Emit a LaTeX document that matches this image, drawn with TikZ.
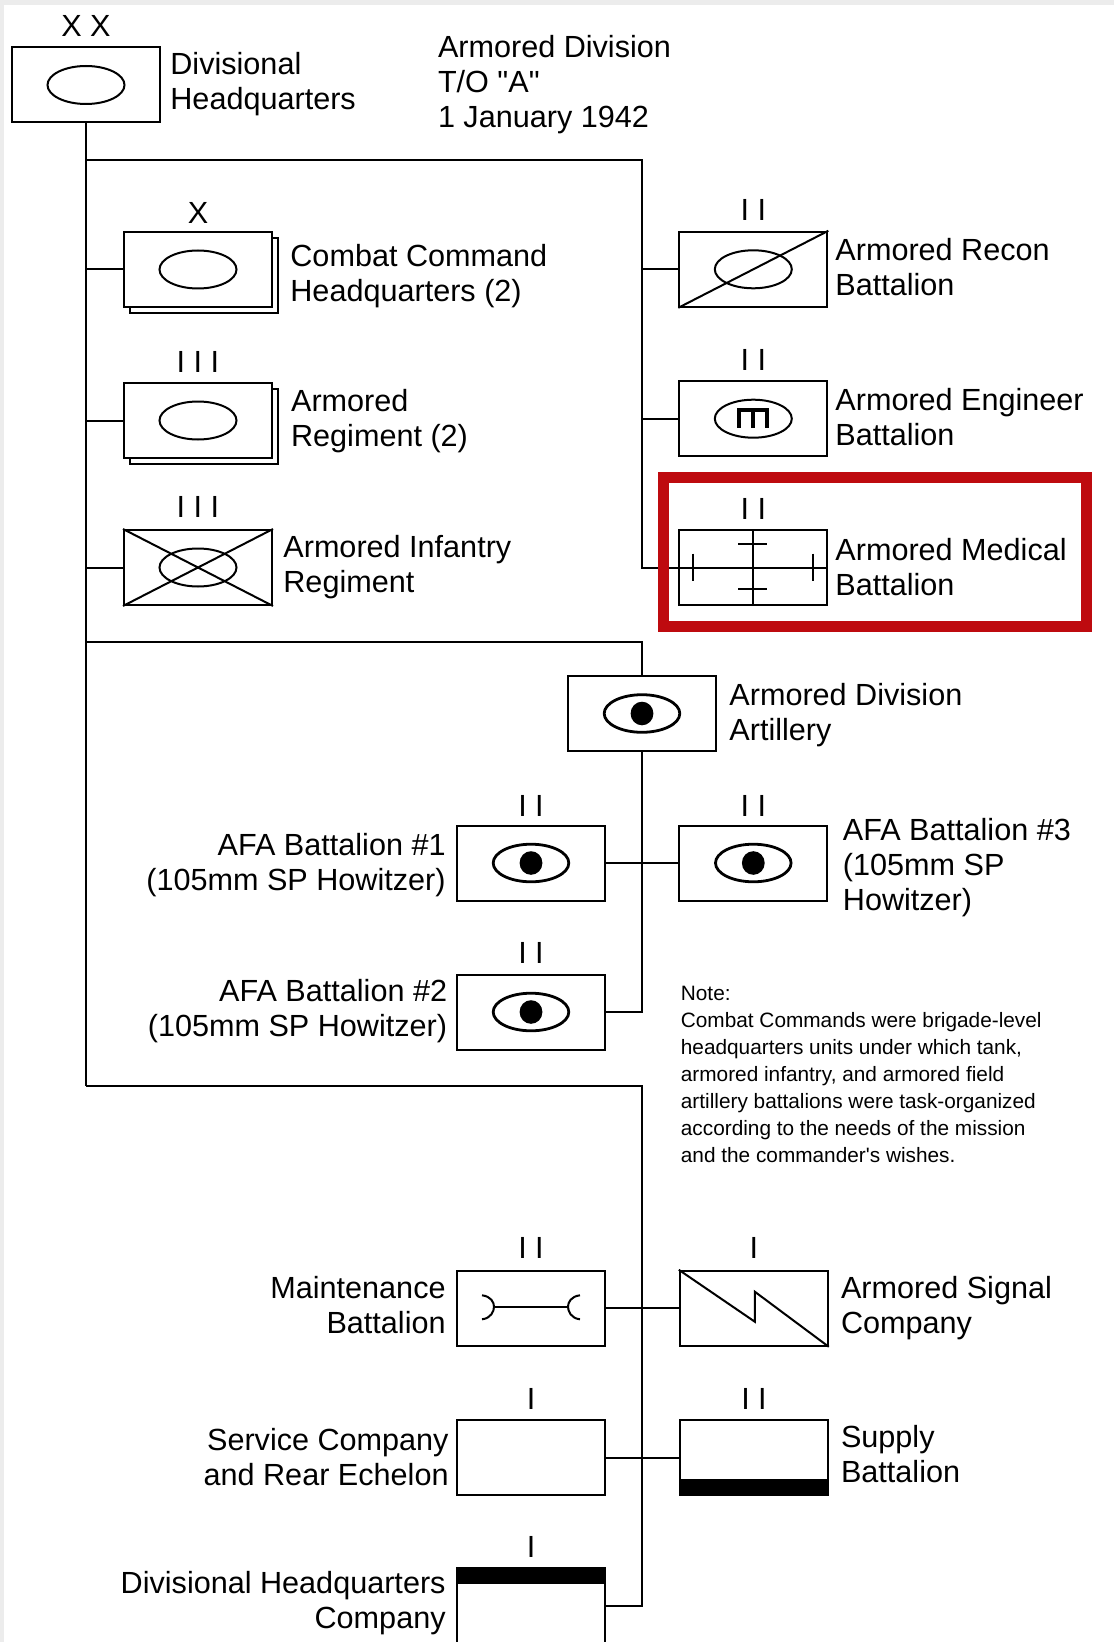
\documentclass[tikz,border=0pt]{standalone}
\usepackage{fontspec}
\setmainfont{Liberation Sans}[Ligatures=TeXOff]
\usepackage{xcolor}
\definecolor{medred}{RGB}{190,10,15}
\definecolor{edgegray}{RGB}{236,236,236}
\usepackage{tikz}
\usetikzlibrary{calc,shadows}

\newcommand{\chartfont}{\fontsize{15.3pt}{17.5pt}\selectfont}
\newcommand{\chartnotefont}{\fontsize{10.4pt}{13.5pt}\selectfont}

\tikzset{
  unitbox/.style={draw, line width=1pt, fill=white, minimum width=74pt, minimum height=37.5pt, inner sep=0pt},
  stacked/.style={copy shadow={shadow xshift=3pt, shadow yshift=-3pt}},
  echelon/.style={font=\chartfont, anchor=base, inner sep=0pt},
  unitlabel/.style={font=\chartfont, inner sep=0pt, anchor=base west},
  unitlabelr/.style={font=\chartfont, inner sep=0pt, anchor=base east},
  link/.style={line width=1pt},
  symbol/.style={line width=1pt},
  eye/.style={line width=1.4pt}
}

\begin{document}
\begin{tikzpicture}[x=0.5pt, y=-0.5pt]
  \useasboundingbox (0,0) rectangle (1114,1642);
  \fill[white] (0,0) rectangle (1114,1642);
  \fill[edgegray] (0,0) rectangle (1114,5);
  \fill[edgegray] (0,0) rectangle (4,1642);

  % Division headquarters and title
  \node[unitbox] (dhq) at (86,85) {};
  \node[echelon] (dhq-ech) at ([yshift=5pt]dhq.north) {X X};
  \node[unitlabel] (dhq-txt) at (170,75) {\begin{tabular}[t]{@{}l@{}}Divisional\\Headquarters\end{tabular}};
  \node[unitlabel] (title) at (437.6,57.6) {\begin{tabular}[t]{@{}l@{}}Armored Division\\T/O "A"\\1 January 1942\end{tabular}};

  % Trunk junctions
  \coordinate (tk1) at (86,160);
  \coordinate (tk1r) at (642,160);
  \coordinate (tk2) at (86,642);
  \coordinate (tk3) at (86,1086);
  \coordinate (tk3r) at (642,1086);

  % Combat elements (left)
  \node[unitbox, stacked] (cc) at (198,269.5) {};
  \node[echelon] (cc-ech) at ([yshift=3.5pt]cc.north) {X};
  \node[unitlabel] (cc-txt) at (290,266.5) {\begin{tabular}[t]{@{}l@{}}Combat Command\\Headquarters (2)\end{tabular}};

  \node[unitbox, stacked] (ar) at (198,420.5) {};
  \node[echelon] (ar-ech) at ([yshift=5pt]ar.north) {I I I};
  \node[unitlabel] (ar-txt) at (290.7,411) {\begin{tabular}[t]{@{}l@{}}Armored\\Regiment (2)\end{tabular}};

  \node[unitbox] (air) at (198,567.5) {};
  \node[echelon] (air-ech) at ([yshift=6pt]air.north) {I I I};
  \node[unitlabel] (air-txt) at (283,557) {\begin{tabular}[t]{@{}l@{}}Armored Infantry\\Regiment\end{tabular}};

  % Combat elements (right)
  \node[unitbox] (recon) at (753.3,269.3) {};
  \node[echelon] (recon-ech) at ([yshift=5pt]recon.north) {I I};
  \node[unitlabel] (recon-txt) at (835,260.7) {\begin{tabular}[t]{@{}l@{}}Armored Recon\\Battalion\end{tabular}};

  \node[unitbox] (eng) at (753.3,418.7) {};
  \node[echelon] (eng-ech) at ([yshift=5pt]eng.north) {I I};
  \node[unitlabel] (eng-txt) at (835,410) {\begin{tabular}[t]{@{}l@{}}Armored Engineer\\Battalion\end{tabular}};

  \node[unitbox] (med) at (753.3,567.5) {};
  \node[echelon] (med-ech) at ([yshift=5pt]med.north) {I I};
  \node[unitlabel] (med-txt) at (835,560) {\begin{tabular}[t]{@{}l@{}}Armored Medical\\Battalion\end{tabular}};

  % Division artillery
  \node[unitbox] (ada) at (642,713.5) {};
  \node[unitlabel] (ada-txt) at (729,705) {\begin{tabular}[t]{@{}l@{}}Armored Division\\Artillery\end{tabular}};

  \node[unitbox] (afa1) at (531,863) {};
  \node[echelon] (afa1-ech) at ([yshift=4pt]afa1.north) {I I};
  \node[unitlabelr] (afa1-txt) at (446,855) {\begin{tabular}[t]{@{}r@{}}AFA Battalion \#1\\(105mm SP Howitzer)\end{tabular}};

  \node[unitbox] (afa3) at (753.3,863) {};
  \node[echelon] (afa3-ech) at ([yshift=4pt]afa3.north) {I I};
  \node[unitlabel] (afa3-txt) at (842.5,840) {\begin{tabular}[t]{@{}l@{}}AFA Battalion \#3\\(105mm SP\\Howitzer)\end{tabular}};

  \node[unitbox] (afa2) at (531,1012) {};
  \node[echelon] (afa2-ech) at ([yshift=5pt]afa2.north) {I I};
  \node[unitlabelr] (afa2-txt) at (447.5,1001.7) {\begin{tabular}[t]{@{}r@{}}AFA Battalion \#2\\(105mm SP Howitzer)\end{tabular}};

  % Note
  \node[font=\chartnotefont, inner sep=0pt, anchor=base west] (note) at (680.5,1000) {\begin{tabular}[t]{@{}l@{}}Note:\\Combat Commands were brigade-level\\headquarters units under which tank,\\armored infantry, and armored field\\artillery battalions were task-organized\\according to the needs of the mission\\and the commander's wishes.\end{tabular}};

  % Service elements
  \node[unitbox] (maint) at (531,1308.3) {};
  \node[echelon] (maint-ech) at ([yshift=5.5pt]maint.north) {I I};
  \node[unitlabelr] (maint-txt) at (446,1298) {\begin{tabular}[t]{@{}r@{}}Maintenance\\Battalion\end{tabular}};

  \node[unitbox] (sig) at (753.8,1308.3) {};
  \node[echelon] (sig-ech) at ([yshift=5.5pt]sig.north) {I};
  \node[unitlabel] (sig-txt) at (840.6,1298) {\begin{tabular}[t]{@{}l@{}}Armored Signal\\Company\end{tabular}};

  \node[unitbox] (svc) at (531,1457.5) {};
  \node[echelon] (svc-ech) at ([yshift=5pt]svc.north) {I};
  \node[unitlabelr] (svc-txt) at (449,1450) {\begin{tabular}[t]{@{}r@{}}Service Company\\and Rear Echelon\end{tabular}};

  \node[unitbox] (sup) at (754,1457.5) {};
  \node[echelon] (sup-ech) at ([yshift=5pt]sup.north) {I I};
  \node[unitlabel] (sup-txt) at (840.6,1447) {\begin{tabular}[t]{@{}l@{}}Supply\\Battalion\end{tabular}};

  \node[unitbox] (dhqco) at (531,1605.5) {};
  \node[echelon] (dhqco-ech) at ([yshift=5pt]dhqco.north) {I};
  \node[unitlabelr] (dhqco-txt) at (446,1593) {\begin{tabular}[t]{@{}r@{}}Divisional Headquarters\\Company\end{tabular}};

  % Branch symbols
  \foreach \u in {dhq,cc,ar,air,recon,eng}
    \draw[symbol] (\u.center) ellipse (19.25pt and 9.5pt);
  \draw[symbol] (air.north west) -- (air.south east) (air.south west) -- (air.north east);
  \draw[symbol] (recon.south west) -- (recon.north east);
  \begin{scope}[shift={(eng.center)}]
    \draw[line width=2pt] (-14,9) -- (-14,-9) -- (14,-9) -- (14,9) (0,-9) -- (0,9);
  \end{scope}
  \begin{scope}[shift={(med.center)}]
    \draw[symbol] (med.west) -- (med.east) (med.north) -- (med.south);
    \draw[symbol] (-60,-14) -- (-60,13) (60,-14) -- (60,13);
    \draw[symbol] (-15,-24) -- (14,-24) (-15,21.5) -- (14,21.5);
  \end{scope}
  \foreach \u in {ada,afa1,afa3,afa2} {
    \draw[eye] (\u.center) ellipse (18.9pt and 9.4pt);
    \fill (\u.center) ellipse (5.7pt and 5.9pt);
  }
  \begin{scope}[shift={(maint.center)}]
    \draw[symbol] (-37,-1.6) -- (37,-1.6);
    \draw[symbol] (-49,-13) .. controls (-40,-12) and (-37,-6) .. (-37,-1.6) .. controls (-37,3) and (-40,10) .. (-49,11);
    \draw[symbol] (49,-13) .. controls (40,-12) and (37,-6) .. (37,-1.6) .. controls (37,3) and (40,10) .. (49,11);
  \end{scope}
  \begin{scope}[shift={(sig.center)}]
    \draw[symbol] (sig.north west) -- (1,13.4) -- (1,-16.6) -- (sig.south east);
  \end{scope}
  \fill (sup.south west) rectangle ([yshift=8.5pt]sup.south east);
  \fill (dhqco.north west) rectangle ([yshift=-8.5pt]dhqco.north east);

  % Connectors
  \draw[link] (dhq.south) -- (tk3);
  \draw[link] (tk1) -- (tk1r) |- (med.west);
  \foreach \u in {cc,ar,air}
    \draw[link] (\u.west) -- (\u.west -| tk1);
  \foreach \u in {recon,eng}
    \draw[link] (\u.west) -- (\u.west -| tk1r);
  \draw[link] (tk2) -| (ada.north);
  \draw[link] (ada.south) |- (afa2.east);
  \draw[link] (afa1.east) -- (afa3.west);
  \draw[link] (tk3) -- (tk3r) |- (dhqco.east);
  \draw[link] (maint.east) -- (sig.west);
  \draw[link] (svc.east) -- (sup.west);

  % Highlight round the medical battalion
  \draw[medred, line width=5.5pt] (663.5,477.5) rectangle (1086.5,626.5);
\end{tikzpicture}
\end{document}
